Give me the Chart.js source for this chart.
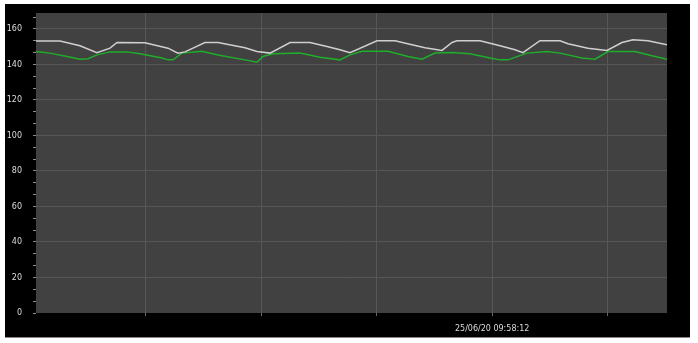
<!DOCTYPE html>
<html>
<head>
<meta charset="utf-8">
<script src="https://cdn.jsdelivr.net/npm/chart.js@4/dist/chart.umd.min.js"></script>
<style>
  html, body { margin: 0; padding: 0; background: #ffffff; }
  #wrap { position: absolute; left: 5px; top: 4px; width: 685px; height: 333px; background: #000; border-bottom: 1px solid #8a8a8a; }
  canvas { display: block; }
</style>
</head>
<body>
<div id="wrap"><canvas id="c" width="685" height="333"></canvas></div>
<script>
// Time axis in seconds (gridline every 10 s); the single labelled tick
const xMin = 0.47;
const xMax = 55.15;
const labelledTick = 40;
const labelledTickText = "25/06/20 09:58:12";

// Y axis
const yMin = 0;
const yMax = 169;
const yMajorStep = 20;

// Series 1 (white)
const whiteTimes = [0.47, 2.55, 4.28, 5.75, 6.88, 7.49, 9.91, 11.91, 12.77, 13.38, 15.11, 16.24, 18.58, 19.62, 20.75, 22.49, 24.21, 25.68, 26.81, 27.68, 30.02, 31.58, 33.05, 34.18, 35.65, 36.52, 36.95, 38.94, 40.68, 41.98, 42.67, 44.14, 45.88, 46.57, 48.3, 49.95, 51.25, 52.2, 53.5, 55.15];
const whiteValues = [153.2, 153.2, 150.5, 146.6, 149.2, 152.4, 152.2, 149.2, 146.4, 147.1, 152.4, 152.4, 149.4, 147.3, 146.4, 152.4, 152.4, 150.1, 148.3, 146.6, 153.4, 153.4, 151.1, 149.4, 147.9, 152.4, 153.4, 153.4, 150.6, 148.3, 146.7, 153.4, 153.4, 151.7, 149.2, 147.9, 152.4, 153.9, 153.4, 151.1];

// Series 2 (green)
const greenTimes = [0.47, 1.68, 3.15, 4.28, 4.97, 5.75, 6.88, 8.35, 9.48, 11.39, 11.91, 12.34, 13.12, 14.85, 16.24, 18.58, 19.62, 20.14, 21.01, 23.34, 25.08, 26.81, 27.68, 28.72, 30.97, 32.71, 33.92, 35.04, 36.52, 38.08, 39.81, 40.68, 41.37, 43.02, 44.75, 45.88, 47.78, 48.91, 50.03, 52.37, 53.85, 55.15];
const greenValues = [147.3, 146.4, 144.5, 143.0, 143.2, 145.4, 147.1, 147.1, 146.0, 143.6, 142.6, 142.6, 146.4, 147.5, 145.4, 142.6, 141.3, 144.5, 146.0, 146.4, 144.1, 142.6, 145.4, 147.5, 147.5, 144.5, 143.0, 146.4, 146.7, 146.0, 143.6, 142.6, 142.6, 146.4, 147.3, 146.4, 143.6, 143.0, 147.3, 147.3, 144.9, 143.0];

const toPoints = (xs, ys) => xs.map((x, i) => ({ x: x, y: ys[i] }));

const plotBg = {
  id: 'plotBg',
  beforeDraw(chart) {
    const { ctx, chartArea: a } = chart;
    ctx.save();
    ctx.fillStyle = '#414141';
    ctx.fillRect(a.left, a.top, a.right - a.left, a.bottom - a.top);
    ctx.restore();
  }
};

const isMajor = v => Math.abs(v / yMajorStep - Math.round(v / yMajorStep)) < 1e-6;

new Chart(document.getElementById('c'), {
  type: 'line',
  data: {
    datasets: [
      { data: toPoints(whiteTimes, whiteValues), borderColor: '#cfcfcf', borderWidth: 1.5, pointRadius: 0, tension: 0 },
      { data: toPoints(greenTimes, greenValues), borderColor: '#1fae2a', borderWidth: 1.5, pointRadius: 0, tension: 0 }
    ]
  },
  options: {
    responsive: false,
    animation: false,
    events: [],
    layout: { padding: { left: 0, right: 23, top: 9, bottom: 0 } },
    plugins: { legend: { display: false }, tooltip: { enabled: false } },
    scales: {
      x: {
        type: 'linear',
        min: xMin,
        max: xMax,
        afterFit(s) { s.height = 24; s.paddingLeft = 0; s.paddingRight = 0; },
        afterBuildTicks(s) {
          const t = [];
          for (let v = 10; v < xMax; v += 10) t.push({ value: v });
          s.ticks = t;
        },
        border: { display: false },
        grid: { color: '#575757', tickColor: '#6a6a6a', tickLength: 3, lineWidth: 1 },
        ticks: {
          color: '#dcdcdc',
          font: { family: 'DejaVu Sans', size: 8 },
          padding: 8,
          maxRotation: 0,
          autoSkip: false,
          callback: v => (Math.abs(v - labelledTick) < 1e-6 ? labelledTickText : '')
        }
      },
      y: {
        min: yMin,
        max: yMax,
        afterFit(s) { s.width = 31; s.paddingTop = 0; s.paddingBottom = 0; },
        afterBuildTicks(s) {
          const t = [];
          for (let i = 0; i * yMajorStep / 3 <= yMax; i++) t.push({ value: i * yMajorStep / 3 });
          s.ticks = t;
        },
        border: { display: false },
        grid: {
          color: ctx => (isMajor(ctx.tick.value) && ctx.tick.value > 0 ? '#575757' : 'rgba(0,0,0,0)'),
          tickColor: '#8a8a8a',
          tickLength: 3,
          lineWidth: 1
        },
        ticks: {
          color: '#dcdcdc',
          font: { family: 'DejaVu Sans', size: 8 },
          padding: 11,
          autoSkip: false,
          callback: v => (isMajor(v) ? String(Math.round(v)) : '')
        }
      }
    }
  },
  plugins: [plotBg]
});
</script>
</body>
</html>
